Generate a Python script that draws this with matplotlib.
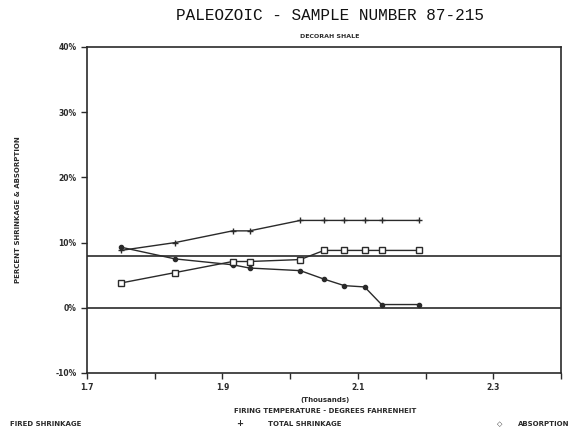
import matplotlib
matplotlib.use("Agg")
import matplotlib.pyplot as plt

temps = [1.750, 1.830, 1.915, 1.940, 2.015, 2.050, 2.080, 2.110, 2.135, 2.190]
fired_shrinkage = [9.3, 7.5, 6.6, 6.1, 5.7, 4.4, 3.4, 3.2, 0.5, 0.5]
total_shrinkage = [8.8, 10.0, 11.8, 11.8, 13.4, 13.4, 13.4, 13.4, 13.4, 13.4]
absorption = [3.8, 5.4, 7.1, 7.1, 7.4, 8.8, 8.8, 8.8, 8.8, 8.8]
ref_line = 8.0
yticks = [-10, 0, 10, 20, 30, 40]
ytick_labels = ["-10%", "0%", "10%", "20%", "30%", "40%"]
xticks_major = [1.7, 1.9, 2.1, 2.3]
xticks_minor = [1.8, 2.0, 2.2, 2.4]

col = "#2a2a2a"
fig = plt.figure(figsize=(5.77, 4.37), dpi=100)
ax = fig.add_axes([87/577, 1-373/437, (561-87)/577, (373-47)/437])

ax.axhline(0, color=col, lw=1.2)
ax.axhline(ref_line, color=col, lw=1.2)
ax.plot(temps, total_shrinkage, color=col, lw=1, marker="+", ms=5, mew=1)
ax.plot(temps, fired_shrinkage, color=col, lw=1, marker="o", ms=3, mfc=col)
ax.plot(temps, absorption, color=col, lw=1, marker="s", ms=4.5, mfc="white", mew=1)

ax.set_xlim(1.7, 2.4)
ax.set_ylim(-10, 40)
ax.set_yticks(yticks)
ax.set_yticklabels(ytick_labels)
ax.set_xticks(xticks_major)
ax.set_xticklabels([f"{v:.1f}" for v in xticks_major])
ax.set_xticks(xticks_minor, minor=True)
for s in ax.spines.values():
    s.set_color(col)
    s.set_linewidth(1.2)
ax.tick_params(axis="both", which="both", direction="out", color=col, labelsize=5.5, width=1)
ax.tick_params(axis="both", which="major", length=4)
ax.tick_params(axis="x", which="minor", length=4)
for lab in ax.get_xticklabels() + ax.get_yticklabels():
    lab.set_fontweight("bold")
    lab.set_color(col)

fig.text(330/577, 1-15/437, "PALEOZOIC - SAMPLE NUMBER 87-215", ha="center", va="center",
         fontsize=11.5, family="Liberation Mono", color="#111111")
fig.text(330/577, 1-37/437, "DECORAH SHALE", ha="center", va="center",
         fontsize=4.5, fontweight="bold", color=col)
fig.text(18/577, 1-210/437, "PERCENT SHRINKAGE & ABSORPTION", rotation=90, ha="center", va="center",
         fontsize=5, fontweight="bold", color=col)
fig.text(325/577, 1-400/437, "(Thousands)", ha="center", va="center",
         fontsize=5, fontweight="bold", color=col)
fig.text(325/577, 1-411/437, "FIRING TEMPERATURE - DEGREES FAHRENHEIT", ha="center", va="center",
         fontsize=5, fontweight="bold", color=col)
fig.text(10/577, 1-424/437, "FIRED SHRINKAGE", ha="left", va="center",
         fontsize=5, fontweight="bold", color=col)
fig.text(240/577, 1-424/437, "+", ha="center", va="center", fontsize=6, fontweight="bold", color=col)
fig.text(268/577, 1-424/437, "TOTAL SHRINKAGE", ha="left", va="center",
         fontsize=5, fontweight="bold", color=col)
fig.text(500/577, 1-424/437, "\u25c7", ha="center", va="center", fontsize=5, color=col)
fig.text(518/577, 1-424/437, "ABSORPTION", ha="left", va="center",
         fontsize=5, fontweight="bold", color=col)

fig.savefig("out.png", dpi=100)
